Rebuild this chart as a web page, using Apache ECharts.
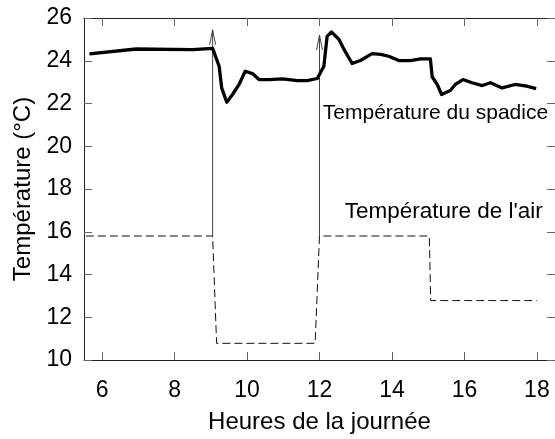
<!DOCTYPE html>
<html>
<head>
<meta charset="utf-8">
<script src="https://cdn.jsdelivr.net/npm/echarts@6/dist/echarts.min.js"></script>
<style>
  html, body { margin: 0; padding: 0; background: #fff; }
  #chart { width: 555px; height: 439px; }
</style>
</head>
<body>
<div id="chart"></div>
<script>
// Spadix temperature over the day (hours, °C)
const spadiceHours = [5.65, 6.94, 8.5, 9.05, 9.23, 9.3, 9.44, 9.6, 9.78, 9.95, 10.15, 10.33, 10.6, 10.98,
  11.39, 11.66, 11.94, 12.12, 12.21, 12.33, 12.38, 12.54, 12.68, 12.9, 13.13, 13.45, 13.69, 13.91,
  14.19, 14.51, 14.79, 15.06, 15.11, 15.25, 15.37, 15.61, 15.75, 15.96, 16.21, 16.49, 16.72, 17.04,
  17.4, 17.72, 17.98];
const spadiceTemp = [24.32, 24.55, 24.52, 24.58, 23.74, 22.73, 22.06, 22.42, 22.89, 23.51, 23.4, 23.12, 23.12, 23.15,
  23.07, 23.07, 23.17, 23.74, 25.14, 25.35, 25.35, 24.99, 24.52, 23.87, 24.01, 24.33, 24.3, 24.21,
  24.01, 24.01, 24.09, 24.09, 23.25, 22.89, 22.42, 22.61, 22.89, 23.12, 22.97, 22.84, 22.97, 22.73,
  22.89, 22.81, 22.7];

// Air temperature steps
const airHours = [5.55, 9.05, 9.16, 11.88, 12.0, 15.03, 15.07, 18.0];
const airTemp = [15.8, 15.8, 10.78, 10.78, 15.8, 15.8, 12.78, 12.78];

// Vertical arrows: hour, start temperature, tip temperature
const arrowHours = [9.05, 12.0];
const arrowFrom = [15.8, 15.8];
const arrowTo = [25.45, 25.2];

// Axis ticks
const xTicks = [6, 8, 10, 12, 14, 16, 18];
const yTicks = [10, 12, 14, 16, 18, 20, 22, 24, 26];

// Text annotations
const noteText = ['Température du spadice', "Température de l'air"];
const noteHour = [15.2, 15.43];
const noteTemp = [21.54, 16.92];
const noteSize = [21, 22.5];

const FONT = '"Liberation Sans", Arial, sans-serif';

const zip = (a, b) => a.map((v, i) => [v, b[i]]);

const chart = echarts.init(document.getElementById('chart'), null, { renderer: 'canvas' });

const axisLineStyle = { color: '#222', width: 1 };
const tickStyle = { color: '#666', width: 1 };

chart.setOption({
  animation: false,
  backgroundColor: '#fff',
  grid: { left: 84, right: -1, top: 18, bottom: 78, containLabel: false },
  xAxis: [
    {
      type: 'value', min: 5.5, max: 18.5, position: 'bottom',
      name: 'Heures de la journée', nameLocation: 'middle', nameGap: 50,
      nameTextStyle: { fontFamily: FONT, fontSize: 24, color: '#000' },
      axisLine: { show: true, lineStyle: axisLineStyle },
      axisTick: { show: true, inside: true, length: 8, lineStyle: tickStyle, customValues: xTicks },
      axisLabel: { show: true, margin: 19, fontFamily: FONT, fontSize: 23, color: '#000', customValues: xTicks },
      splitLine: { show: false }
    },
    {
      type: 'value', min: 5.5, max: 18.5, position: 'top',
      axisLine: { show: true, lineStyle: axisLineStyle },
      axisTick: { show: true, inside: true, length: 8, lineStyle: tickStyle, customValues: xTicks },
      axisLabel: { show: false },
      splitLine: { show: false }
    }
  ],
  yAxis: [
    {
      type: 'value', min: 10, max: 26, interval: 2, position: 'left',
      name: 'Température (°C)', nameLocation: 'middle', nameGap: 48,
      nameTextStyle: { fontFamily: FONT, fontSize: 24, color: '#000' },
      axisLine: { show: true, lineStyle: axisLineStyle },
      axisTick: { show: true, inside: true, length: 8, lineStyle: tickStyle, customValues: yTicks },
      axisLabel: { show: true, margin: 12, fontFamily: FONT, fontSize: 23, color: '#000', customValues: yTicks },
      splitLine: { show: false }
    },
    {
      type: 'value', min: 10, max: 26, interval: 2, position: 'right',
      axisLine: { show: true, lineStyle: axisLineStyle },
      axisTick: { show: true, inside: true, length: 8, lineStyle: tickStyle },
      axisLabel: { show: false },
      splitLine: { show: false }
    }
  ],
  series: [
    {
      name: 'arrows',
      type: 'custom',
      xAxisIndex: 0, yAxisIndex: 0,
      clip: false,
      encode: { x: 0, y: [1, 2] },
      data: arrowHours.map((h, i) => [h, arrowFrom[i], arrowTo[i]]),
      renderItem: function (params, api) {
        const p0 = api.coord([api.value(0), api.value(1)]);
        const p1 = api.coord([api.value(0), api.value(2)]);
        const stroke = { stroke: '#444', lineWidth: 1, fill: null };
        return {
          type: 'group',
          children: [
            { type: 'line', shape: { x1: p0[0], y1: p0[1], x2: p1[0], y2: p1[1] }, style: stroke },
            { type: 'polyline', shape: { points: [[p1[0] - 3, p1[1] + 15], [p1[0], p1[1]], [p1[0] + 3, p1[1] + 15]] }, style: stroke }
          ]
        };
      },
      z: 2
    },
    {
      name: "Température de l'air",
      type: 'line',
      data: zip(airHours, airTemp),
      showSymbol: false,
      symbol: 'none',
      lineStyle: { color: '#111', width: 1, type: [8, 4] },
      z: 3
    },
    {
      name: 'Température du spadice',
      type: 'line',
      data: zip(spadiceHours, spadiceTemp),
      showSymbol: false,
      symbol: 'none',
      lineStyle: { color: '#000', width: 3.3, join: 'round' },
      z: 4
    }
  ]
});

// Curve labels placed in data coordinates
chart.setOption({
  graphic: noteText.map((t, i) => {
    const p = chart.convertToPixel({ xAxisIndex: 0, yAxisIndex: 0 }, [noteHour[i], noteTemp[i]]);
    return {
      type: 'text', x: p[0], y: p[1], z: 10, silent: true,
      style: { text: t, fill: '#000', font: noteSize[i] + 'px ' + FONT, align: 'center', verticalAlign: 'middle' }
    };
  })
});
</script>
</body>
</html>
